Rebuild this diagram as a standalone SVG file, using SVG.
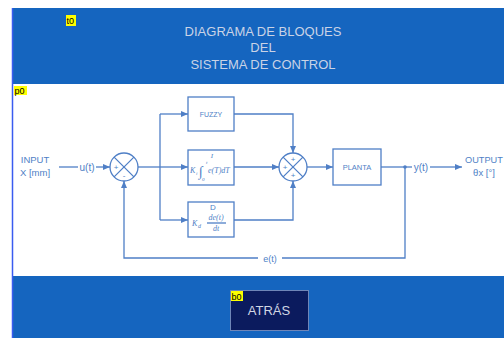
<svg xmlns="http://www.w3.org/2000/svg" width="504" height="338" viewBox="0 0 504 338">
<style>
.ln{fill:none;stroke:#4f7fc6;stroke-width:1.3}
.bx{fill:#fff;stroke:#4f7fc6;stroke-width:1.3}
.t{font-family:"Liberation Sans",Arial,sans-serif;fill:#4f7fc6}
.ti{font-family:"Liberation Sans",Arial,sans-serif;fill:#c9d3e6;font-size:13px;text-anchor:middle}
.tag{fill:#ffff00}
.tagt{font-family:"Liberation Sans",Arial,sans-serif;font-size:9px;fill:#000}
.m{font-family:"Liberation Serif","Times New Roman",serif;fill:#4f7fc6;font-style:italic}
</style>
<defs>
<marker id="ar" markerWidth="8" markerHeight="8" refX="7" refY="4" orient="auto" markerUnits="userSpaceOnUse">
<path d="M0,1 L7,4 L0,7 Z" fill="#4f7fc6"/>
</marker>
</defs>
<rect x="0" y="0" width="504" height="338" fill="#fff"/>
<g id="header">
<rect x="12" y="8" width="492" height="76" fill="#1565bf"/>
<text class="ti" x="263" y="36">DIAGRAMA DE BLOQUES</text>
<text class="ti" x="263" y="52">DEL</text>
<text class="ti" x="263" y="69">SISTEMA DE CONTROL</text>
<rect class="tag" x="66" y="15" width="10" height="11"/>
<text class="tagt" x="66.5" y="24">t0</text>
</g>
<g id="panel">
<rect x="12" y="84" width="492" height="192" fill="#fff"/>
<rect class="tag" x="14" y="86" width="13" height="9"/>
<text class="tagt" x="14.5" y="94">p0</text>
</g>
<g id="footer">
<rect x="12" y="276" width="492" height="62" fill="#1565bf"/>
<line x1="12.5" y1="8" x2="12.5" y2="338" stroke="#3a5cf0" stroke-width="1.5"/>
</g>
<g id="connectors">
<line class="ln" x1="59" y1="167" x2="78" y2="167"/>
<line class="ln" x1="96" y1="167" x2="110" y2="167" marker-end="url(#ar)"/>
<line class="ln" x1="138" y1="167" x2="160" y2="167"/>
<path class="ln" d="M160,114 V220"/>
<line class="ln" x1="160" y1="114" x2="188" y2="114" marker-end="url(#ar)"/>
<line class="ln" x1="160" y1="167" x2="188" y2="167" marker-end="url(#ar)"/>
<line class="ln" x1="160" y1="220" x2="188" y2="220" marker-end="url(#ar)"/>
<path class="ln" d="M234,114 H293 V153" marker-end="url(#ar)"/>
<line class="ln" x1="234" y1="167" x2="279" y2="167" marker-end="url(#ar)"/>
<path class="ln" d="M234,220 H293 V181" marker-end="url(#ar)"/>
<line class="ln" x1="307" y1="167" x2="333" y2="167" marker-end="url(#ar)"/>
<line class="ln" x1="381" y1="167" x2="412" y2="167"/>
<line class="ln" x1="430" y1="167" x2="462" y2="167" marker-end="url(#ar)"/>
<circle cx="405" cy="167" r="1.8" fill="#4f7fc6"/>
<path class="ln" d="M405,167 V258 H282"/>
<path class="ln" d="M258,258 H124 V181" marker-end="url(#ar)"/>
<text class="t" x="87" y="171" font-size="10" text-anchor="middle">u(t)</text>
<text class="t" x="421" y="171" font-size="10" text-anchor="middle">y(t)</text>
<text class="t" x="270" y="262" font-size="9" text-anchor="middle">e(t)</text>
</g>
<g id="input">
<text class="t" x="35" y="163" font-size="9.5" text-anchor="middle">INPUT</text>
<text class="t" x="35" y="176" font-size="9.5" text-anchor="middle">X [mm]</text>
</g>
<g id="output">
<text class="t" x="465" y="163" font-size="9.2">OUTPUT</text>
<text class="t" x="484" y="176" font-size="9.5" text-anchor="middle">θx [°]</text>
</g>
<g id="sum1">
<circle class="bx" cx="124" cy="167" r="14"/>
<path class="ln" d="M114.1,157.1 L133.9,176.9 M133.9,157.1 L114.1,176.9"/>
<text class="t" x="116" y="170" font-size="8" text-anchor="middle">+</text>
<text class="t" x="124" y="178" font-size="8" text-anchor="middle">-</text>
</g>
<g id="fuzzy">
<rect class="bx" x="188" y="97" width="46" height="34"/>
<text class="t" x="211" y="117" font-size="7" text-anchor="middle">FUZZY</text>
</g>
<g id="integral">
<rect class="bx" x="188" y="150" width="46" height="35"/>
<text class="m" x="212" y="158" font-size="7" text-anchor="middle">I</text>
<text class="m" x="190" y="173" font-size="8">K</text>
<text class="m" x="196" y="175" font-size="5">i</text>
<text class="m" x="199" y="176" font-size="14">∫</text>
<text class="m" x="206" y="164" font-size="5">t</text>
<text class="m" x="202" y="181" font-size="5">0</text>
<text class="m" x="208" y="173" font-size="8">e(T)dT</text>
</g>
<g id="derivative">
<rect class="bx" x="188" y="202" width="46" height="35"/>
<text class="t" x="213" y="210" font-size="8" text-anchor="middle">D</text>
<text class="m" x="192" y="226" font-size="8">K</text>
<text class="m" x="198" y="228" font-size="6">d</text>
<text class="m" x="216" y="220" font-size="8" text-anchor="middle">de(t)</text>
<line class="ln" x1="207" y1="223" x2="226" y2="223" stroke-width="0.7"/>
<text class="m" x="216" y="231" font-size="8" text-anchor="middle">dt</text>
</g>
<g id="sum2">
<circle class="bx" cx="293" cy="167" r="14"/>
<path class="ln" d="M283.1,157.1 L302.9,176.9 M302.9,157.1 L283.1,176.9"/>
<text class="t" x="293" y="162" font-size="8" text-anchor="middle">+</text>
<text class="t" x="285" y="170" font-size="8" text-anchor="middle">+</text>
<text class="t" x="293" y="178" font-size="8" text-anchor="middle">+</text>
</g>
<g id="planta">
<rect class="bx" x="333" y="149" width="48" height="36"/>
<text class="t" x="357" y="170" font-size="7.5" text-anchor="middle">PLANTA</text>
</g>
<g id="atras">
<rect x="230.5" y="290.5" width="78" height="40" fill="#0b1b5e" stroke="#6f86b8" stroke-width="1"/>
<text x="269" y="315" font-family="&quot;Liberation Sans&quot;,Arial,sans-serif" font-size="13" fill="#d0d6e4" text-anchor="middle">ATRÁS</text>
<rect class="tag" x="231" y="291" width="12" height="10"/>
<text class="tagt" x="231.5" y="299.5">b0</text>
</g>
</svg>
